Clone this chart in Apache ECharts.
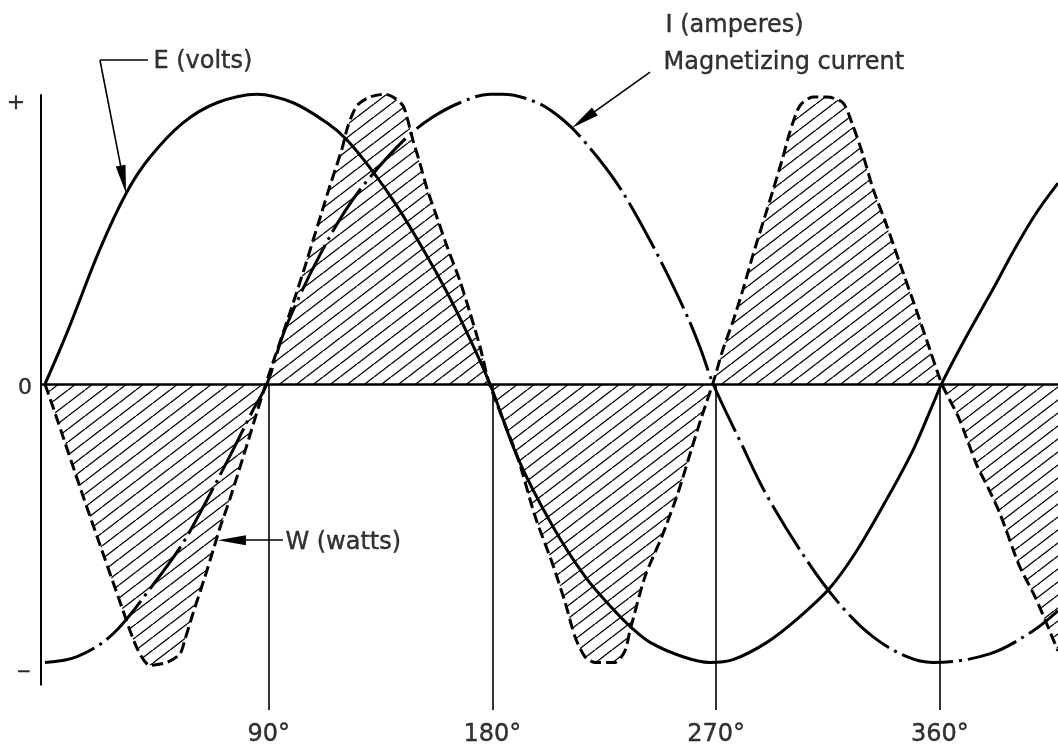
<!DOCTYPE html>
<html>
<head>
<meta charset="utf-8">
<script src="https://cdn.jsdelivr.net/npm/echarts@6.0.0/dist/echarts.min.js"></script>
<style>
  html, body { margin: 0; padding: 0; background: #fff; }
  #chart { width: 1058px; height: 746px; }
</style>
</head>
<body>
<div id="chart"></div>
<script>
// values: x in degrees, y relative to the +/- peaks
var eDeg = [0, 8.9, 22.1, 33.0, 42.2, 55.5, 69.2, 85.3, 99.8, 113.4, 121.5, 131.9, 141.6, 152.1, 161.7, 169.7, 179.0,
  190.3, 203.9, 217.2, 228.1, 236.1, 243.4, 256.6, 267.5, 276.8, 290.4, 303.7, 315.8, 326.6, 338.7, 349.2, 357.2, 361.2,
  370.9, 381.3, 389.4, 398.3, 407.5];
var eVal = [0, 0.18, 0.47, 0.67, 0.79, 0.91, 0.98, 1.01, 0.98, 0.91, 0.85, 0.74, 0.62, 0.47, 0.32, 0.18, 0,
  -0.26, -0.49, -0.67, -0.78, -0.85, -0.90, -0.95, -0.97, -0.96, -0.90, -0.81, -0.71, -0.58, -0.40, -0.23, -0.07, 0.01,
  0.17, 0.33, 0.46, 0.59, 0.70];

var iDeg = [0, 12.9, 27.4, 43.4, 54.3, 62.3, 75.6, 83.7, 89.3, 95.7, 102.6, 110.6, 120.5, 130.7, 145.6, 156.0, 166.9,
  179.0, 184.0, 198.0, 208.5, 216.5, 230.0, 243.4, 256.6, 263.4, 268.8, 279.7, 290.5, 307.7, 321.0, 333.0, 346.7,
  357.2, 380.0, 397.4, 407.5];
var iVal = [-0.97, -0.95, -0.87, -0.70, -0.57, -0.45, -0.23, -0.09, 0, 0.17, 0.31, 0.45, 0.60, 0.72, 0.86, 0.93, 0.98,
  1.01, 1.01, 0.98, 0.92, 0.85, 0.70, 0.50, 0.27, 0.13, 0, -0.20, -0.39, -0.63, -0.78, -0.88, -0.95,
  -0.97, -0.94, -0.86, -0.79];

var wDeg = [0, 4.0, 14.9, 20.9, 29.4, 37.0, 42.2, 49.1, 54.3, 56.3, 59.5, 64.4, 67.6, 70.4, 74.4, 81.3, 88.8,
  98.6, 104.6, 107.8, 111.4, 114.6, 119.5, 121.9, 125.5, 130.7, 136.8, 140.0, 144.0, 145.6, 148.0, 150.8, 153.7, 157.7,
  161.7, 166.9, 170.9, 175.0, 178.8,
  190.3, 197.1, 203.9, 209.2, 213.2, 217.2, 221.2, 229.3, 233.3, 235.3, 241.4, 248.2, 254.6, 260.3, 264.3, 268.6,
  272.7, 276.8, 280.8, 284.8, 291.6, 296.5, 299.7, 303.7, 308.9, 314.6, 321.0, 325.0, 329.0, 333.1, 338.7, 343.9,
  349.2, 354.8, 360.8,
  367.7, 374.7, 379.3, 384.1, 391.8, 398.2, 402.7, 407.5];
var wVal = [0, -0.10, -0.38, -0.53, -0.74, -0.92, -0.98, -0.97, -0.94, -0.89, -0.80, -0.67, -0.58, -0.50, -0.40, -0.21, 0,
  0.25, 0.41, 0.50, 0.60, 0.69, 0.82, 0.90, 0.97, 1.00, 1.01, 1.00, 0.97, 0.93, 0.85, 0.77, 0.68, 0.58,
  0.48, 0.36, 0.25, 0.13, 0,
  -0.26, -0.46, -0.62, -0.76, -0.88, -0.95, -0.97, -0.97, -0.93, -0.86, -0.67, -0.53, -0.38, -0.22, -0.11, 0,
  0.12, 0.22, 0.33, 0.45, 0.64, 0.78, 0.88, 0.97, 1.00, 1.00, 0.98, 0.90, 0.80, 0.68, 0.55, 0.42,
  0.29, 0.15, 0,
  -0.12, -0.28, -0.36, -0.45, -0.63, -0.74, -0.83, -0.93];

var tickDeg = [90, 180, 270, 360];
var tickLabels = ['90°', '180°', '270°', '360°'];
var levelVal = [1, 0, -1];
var levelLabels = ['+', '0', '−'];

function pairs(xs, ys) {
  return xs.map(function (x, i) { return [x, ys[i]]; });
}

// hatch tile for the W area
var hatch = document.createElement('canvas');
hatch.width = 17;
hatch.height = 13;
var hc = hatch.getContext('2d');
hc.strokeStyle = '#000';
hc.lineWidth = 1.3;
[-17, 0, 17].forEach(function (dx) {
  hc.beginPath();
  hc.moveTo(dx, 13);
  hc.lineTo(dx + 17, 0);
  hc.stroke();
});

var FONT = 'DejaVu Sans';
var ink = '#000';

function seg(a, b, w, arrow) {
  var end = { coord: b };
  if (arrow) {
    end.symbol = 'triangle';
    end.symbolSize = [10, 28];
  }
  return [{ coord: a, lineStyle: { width: w, color: ink, type: 'solid' } }, end];
}

var frame = [
  seg([-1.6, 1.01], [-1.6, -1.05], 2),
  seg([-1.6, 0], [407.5, 0], 2.6)
];
tickDeg.forEach(function (d) { frame.push(seg([d, 0], [d, -1.136], 1.6)); });

// leader lines for the captions
frame.push(seg([41.4, 1.129], [22.1, 1.129], 1.6));
frame.push(seg([22.1, 1.129], [31.5, 0.713], 1.6, true));
frame.push(seg([243.4, 1.087], [216.6, 0.921], 1.6, true));
frame.push(seg([95.7, -0.544], [75.2, -0.544], 1.6, true));

var captions = [
  { value: [43.4, 1.122], name: 'E (volts)' },
  { value: [249.4, 1.247], name: 'I (amperes)' },
  { value: [248.6, 1.118], name: 'Magnetizing current' },
  { value: [96.5, -0.554], name: 'W (watts)' }
];

var centered = tickDeg.map(function (d, i) {
  return { value: [d, -1.222], name: tickLabels[i] };
});
var levelNudge = [[-5, 6], [4, 4], [3, 1]];
var levelSize = [22, 22, 18];
levelVal.forEach(function (v, i) {
  centered.push({ value: [-9.7, v], name: levelLabels[i], label: { offset: levelNudge[i], fontSize: levelSize[i] } });
});

var textStyle = {
  show: true, formatter: '{b}', color: ink, fontFamily: FONT, fontSize: 24,
  textBorderColor: ink, textBorderWidth: 0.4
};

var chart = echarts.init(document.getElementById('chart'));
chart.setOption({
  animation: false,
  backgroundColor: '#fff',
  grid: { left: 0, right: 0, top: 0, bottom: 0 },
  xAxis: { type: 'value', min: -18.1, max: 407.5, show: false },
  yAxis: { type: 'value', min: -1.261, max: 1.338, show: false },
  series: [
    {
      name: 'W (watts)',
      type: 'line',
      data: pairs(wDeg, wVal),
      smooth: 0.25,
      symbol: 'none',
      z: 2,
      lineStyle: { color: ink, width: 3, type: [11, 5] },
      areaStyle: { color: { image: hatch, repeat: 'repeat' }, opacity: 1, origin: 0 }
    },
    {
      name: 'E (volts)',
      type: 'line',
      data: pairs(eDeg, eVal),
      smooth: 0.35,
      symbol: 'none',
      z: 3,
      lineStyle: { color: ink, width: 3 },
      markLine: {
        silent: true,
        symbol: ['none', 'none'],
        label: { show: false },
        data: frame
      }
    },
    {
      name: 'I (amperes)',
      type: 'line',
      data: pairs(iDeg, iVal),
      smooth: 0.35,
      symbol: 'none',
      z: 3,
      lineStyle: { color: ink, width: 3, type: [52, 6, 3, 6] }
    },
    {
      name: 'captions',
      type: 'scatter',
      silent: true,
      symbolSize: 1,
      itemStyle: { color: 'transparent' },
      data: captions,
      label: Object.assign({ position: 'right', distance: 0 }, textStyle)
    },
    {
      name: 'tick labels',
      type: 'scatter',
      silent: true,
      symbolSize: 1,
      itemStyle: { color: 'transparent' },
      data: centered,
      label: Object.assign({ position: 'inside' }, textStyle)
    }
  ]
});
</script>
</body>
</html>
